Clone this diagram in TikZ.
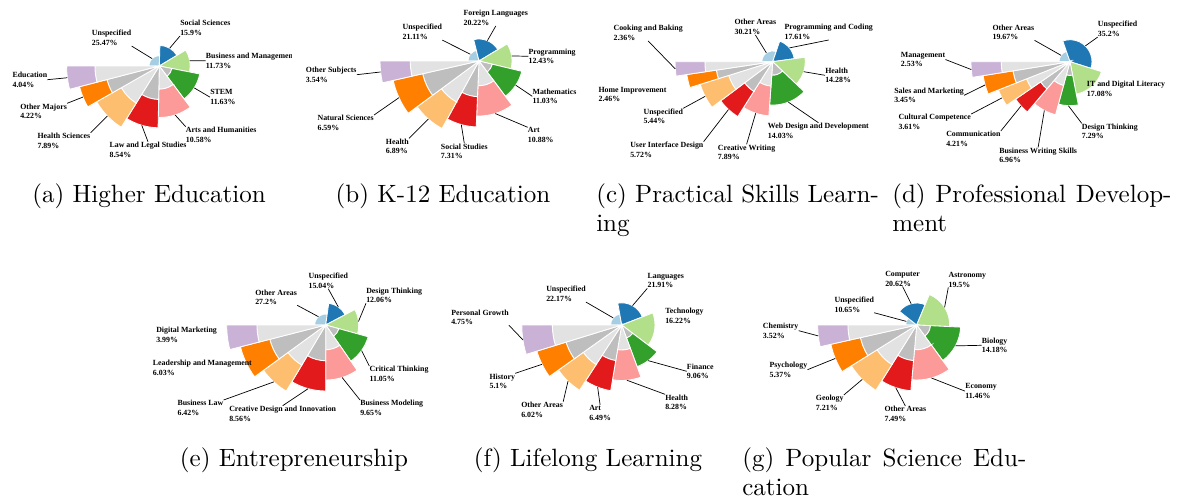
\documentclass[tikz,border=0pt]{standalone}
\usepackage{fontspec}
\newfontfamily\labfont{Liberation Serif}
\newfontfamily\capfont{lmroman10-regular.otf}
\definecolor{pal0}{HTML}{A6CEE3}
\definecolor{pal1}{HTML}{1F78B4}
\definecolor{pal2}{HTML}{B2DF8A}
\definecolor{pal3}{HTML}{33A02C}
\definecolor{pal4}{HTML}{FB9A99}
\definecolor{pal5}{HTML}{E31A1C}
\definecolor{pal6}{HTML}{FDBF6F}
\definecolor{pal7}{HTML}{FF7F00}
\definecolor{pal8}{HTML}{CAB2D6}
\definecolor{gray0}{HTML}{E2E2E2}
\definecolor{gray1}{HTML}{BEBEBE}
\begin{document}
\begin{tikzpicture}[x=0.025cm,y=0.025cm,
lab/.style={font=\labfont\bfseries\fontsize{5.6}{7}\selectfont,align=left,inner sep=0pt,anchor=north west},
lead/.style={line width=0.5pt},
wedge/.style={draw=white,line width=0.6pt},
captxt/.style={font=\capfont\fontsize{17.8}{21}\selectfont,inner sep=0pt}]
\useasboundingbox (0,0) rectangle (1180,-501);
% roses: centre, step, shares (angle 3.6 deg per percent, clockwise from the left)
\foreach \nm/\cx/\cy/\st/\vals in {
  a/159.3/66/10.3/{25.47,15.9,11.73,11.63,10.58,8.54,7.89,4.22,4.04},
  b/479/61/11/{21.11,20.22,12.43,11.03,10.88,7.31,6.89,6.59,3.54},
  c/772.7/61.7/10.85/{30.21,17.61,14.28,14.03,7.89,5.72,5.44,2.46,2.36},
  d/1070/61.7/11/{19.67,35.2,17.08,7.29,6.96,4.21,3.61,3.45,2.53},
  e/325.7/325/11/{27.2,15.04,12.06,11.05,9.65,8.56,6.42,6.03,3.99},
  f/621.7/325/11.1/{22.17,21.91,16.22,9.06,8.28,6.49,6.02,5.1,4.75},
  g/916.7/325/11/{10.65,20.62,19.5,14.18,11.46,7.49,7.21,5.37,3.52}}{
  \begin{scope}[shift={(\cx,-\cy)}]
  \gdef\angnow{180}
  \foreach \p [count=\k from 0] in \vals {
    \pgfmathsetmacro\aend{\angnow-3.6*\p}
    \pgfmathsetmacro\amid{\angnow-1.8*\p}
    \pgfmathsetmacro\R{(\k+1)*\st}
    \pgfmathsetmacro\G{max(0,\R-2.75*\st)}
    \pgfmathtruncatemacro\gi{mod(\k,2)}
    \ifdim\G pt>5pt
      \filldraw[wedge,fill=gray\gi] (0,0) -- (\angnow:\G) arc[start angle=\angnow,end angle=\aend,radius=\G] -- cycle;
      \filldraw[wedge,fill=pal\k] (\angnow:\G) -- (\angnow:\R) arc[start angle=\angnow,end angle=\aend,radius=\R] -- (\aend:\G) arc[start angle=\aend,end angle=\angnow,radius=\G] -- cycle;
    \else
      \filldraw[wedge,fill=pal\k] (0,0) -- (\angnow:\R) arc[start angle=\angnow,end angle=\aend,radius=\R] -- cycle;
    \fi
    \coordinate (\nm\k) at (\amid:\R);
    \xdef\angnow{\aend}
  }
  \end{scope}
}
% (a)
\node[lab] (aL0) at (91.7,-30) {Unspecified\\25.47\%};
\node[lab] (aL1) at (180,-20) {Social Sciences\\15.9\%};
\begin{scope}
\clip (0,0) rectangle (291.5,-501);
\node[lab] (aL2) at (205.7,-52.7) {Business and Management\\11.73\%};
\end{scope}
\node[lab] (aL3) at (210,-89.3) {STEM\\11.63\%};
\node[lab] (aL4) at (185.7,-126.7) {Arts and Humanities\\10.58\%};
\node[lab] (aL5) at (109.3,-141.7) {Law and Legal Studies\\8.54\%};
\node[lab] (aL6) at (37.3,-132.7) {Health Sciences\\7.89\%};
\node[lab] (aL7) at (20,-103.3) {Other Majors\\4.22\%};
\node[lab] (aL8) at (12.3,-71.7) {Education\\4.04\%};
% (b)
\node[lab] (bL0) at (402.3,-24) {Unspecified\\21.11\%};
\node[lab] (bL1) at (463.3,-10) {Foreign Languages\\20.22\%};
\node[lab] (bL2) at (528.3,-48.3) {Programming\\12.43\%};
\node[lab] (bL3) at (532.3,-88.3) {Mathematics\\11.03\%};
\node[lab] (bL4) at (527.7,-127.3) {Art\\10.88\%};
\node[lab] (bL5) at (440.7,-143.3) {Social Studies\\7.31\%};
\node[lab] (bL6) at (385.7,-138.3) {Health\\6.89\%};
\node[lab] (bL7) at (317.3,-115) {Natural Sciences\\6.59\%};
\node[lab] (bL8) at (305.7,-66.7) {Other Subjects\\3.54\%};
% (c)
\node[lab] (cL0) at (734.3,-19) {Other Areas\\30.21\%};
\node[lab] (cL1) at (784.3,-24) {Programming and Coding\\17.61\%};
\node[lab] (cL2) at (825,-67.3) {Health\\14.28\%};
\node[lab] (cL3) at (767.7,-122.7) {Web Design and Development\\14.03\%};
\node[lab] (cL4) at (717.7,-144.3) {Creative Writing\\7.89\%};
\node[lab] (cL5) at (630,-141.7) {User Interface Design\\5.72\%};
\node[lab] (cL6) at (643.3,-108.3) {Unspecified\\5.44\%};
\node[lab] (cL7) at (598.3,-86.7) {Home Improvement\\2.46\%};
\node[lab] (cL8) at (613.3,-25) {Cooking and Baking\\2.36\%};
% (d)
\node[lab] (dL0) at (992.3,-24.3) {Other Areas\\19.67\%};
\node[lab] (dL1) at (1097.7,-21) {Unspecified\\35.2\%};
\node[lab] (dL2) at (1086.7,-81) {IT and Digital Literacy\\17.08\%};
\node[lab] (dL3) at (1081.7,-123.3) {Design Thinking\\7.29\%};
\node[lab] (dL4) at (999,-147.3) {Business Writing Skills\\6.96\%};
\node[lab] (dL5) at (946,-131) {Communication\\4.21\%};
\node[lab] (dL6) at (898.3,-114) {Cultural Competence\\3.61\%};
\node[lab] (dL7) at (894,-87.3) {Sales and Marketing\\3.45\%};
\node[lab] (dL8) at (900.7,-51.7) {Management\\2.53\%};
% (e)
\node[lab] (eL0) at (255,-289.3) {Other Areas\\27.2\%};
\node[lab] (eL1) at (308.3,-272.7) {Unspecified\\15.04\%};
\node[lab] (eL2) at (366,-287.3) {Design Thinking\\12.06\%};
\node[lab] (eL3) at (369.3,-366) {Critical Thinking\\11.05\%};
\node[lab] (eL4) at (360,-400) {Business Modeling\\9.65\%};
\node[lab] (eL5) at (229,-405.7) {Creative Design and Innovation\\8.56\%};
\node[lab] (eL6) at (177.3,-400) {Business Law\\6.42\%};
\node[lab] (eL7) at (152.7,-360) {Leadership and Management\\6.03\%};
\node[lab] (eL8) at (156,-326.7) {Digital Marketing\\3.99\%};
% (f)
\node[lab] (fL0) at (546,-286) {Unspecified\\22.17\%};
\node[lab] (fL1) at (647.3,-272.7) {Languages\\21.91\%};
\node[lab] (fL2) at (665,-307.7) {Technology\\16.22\%};
\node[lab] (fL3) at (686.7,-363.3) {Finance\\9.06\%};
\node[lab] (fL4) at (665,-394.3) {Health\\8.28\%};
\node[lab] (fL5) at (589,-405) {Art\\6.49\%};
\node[lab] (fL6) at (521,-401.7) {Other Areas\\6.02\%};
\node[lab] (fL7) at (489.3,-373.3) {History\\5.1\%};
\node[lab] (fL8) at (451,-309.3) {Personal Growth\\4.75\%};
% (g)
\node[lab] (gL0) at (834.3,-296.7) {Unspecified\\10.65\%};
\node[lab] (gL1) at (885,-270.7) {Computer\\20.62\%};
\node[lab] (gL2) at (948.3,-271.7) {Astronomy\\19.5\%};
\node[lab] (gL3) at (981.7,-337.3) {Biology\\14.18\%};
\node[lab] (gL4) at (965,-383.3) {Economy\\11.46\%};
\node[lab] (gL5) at (884.3,-406) {Other Areas\\7.49\%};
\node[lab] (gL6) at (815.7,-395) {Geology\\7.21\%};
\node[lab] (gL7) at (769.3,-361.7) {Psychology\\5.37\%};
\node[lab] (gL8) at (762.7,-322.7) {Chemistry\\3.52\%};
% leader lines
\foreach \s/\t in {a0/aL0.south east,a1/aL1.south west,a2/aL2.west,a3/aL3.west,a4/aL4.north west,
  a5/aL5.north,a6/aL6.north east,a7/aL7.north east,a8/aL8.east,
  b0/bL0.south east,b1/bL1.south,b2/bL2.west,b3/bL3.west,b4/bL4.north west,
  b5/bL5.north,b6/bL6.north east,b7/bL7.north east,b8/bL8.east,
  c0/cL0.south,c1/cL1.south,c2/cL2.west,c3/cL3.north,c4/cL4.north,
  c5/cL5.north east,c6/cL6.north east,c8/cL8.south,
  d0/dL0.south east,d1/dL1.south west,d3/dL3.north west,d4/dL4.north,
  d5/dL5.north east,d6/dL6.north east,d7/dL7.east,d8/dL8.east,
  e0/eL0.south east,e1/eL1.south,e2/eL2.south west,e3/eL3.north west,
  e4/eL4.north west,e5/eL5.north,e6/eL6.north east,
  f0/fL0.south east,f1/fL1.south west,f3/fL3.west,f4/fL4.north west,
  f5/fL5.north,f6/fL6.north east,f7/fL7.north east,f8/fL8.south east,
  g0/gL0.south east,g1/gL1.south,g2/gL2.south west,g3/gL3.west,g4/gL4.west,
  g5/gL5.north,g6/gL6.north east,g7/gL7.east,g8/gL8.east}
  \draw[lead] (\s) -- (\t);
% captions
\node[captxt,anchor=base] (capA) at (149,-202) {(a) Higher Education};
\node[captxt,anchor=base] (capB) at (443,-202) {(b) K-12 Education};
\node[captxt,anchor=base west] (capC) at (596,-202) {(c) Practical Skills Learn-};
\node[captxt,anchor=base west] (capC2) at (596,-231) {ing};
\node[captxt,anchor=base west] (capD) at (892,-202) {\makebox[6.98cm][s]{(d) Professional Develop-}};
\node[captxt,anchor=base west] (capD2) at (892,-231) {ment};
\node[captxt,anchor=base] (capE) at (294,-466) {(e) Entrepreneurship};
\node[captxt,anchor=base] (capF) at (588,-466) {(f) Lifelong Learning};
\node[captxt,anchor=base west] (capG) at (742,-466) {\makebox[7.1cm][s]{(g) Popular Science Edu-}};
\node[captxt,anchor=base west] (capG2) at (742,-495) {cation};
\end{tikzpicture}
\end{document}
